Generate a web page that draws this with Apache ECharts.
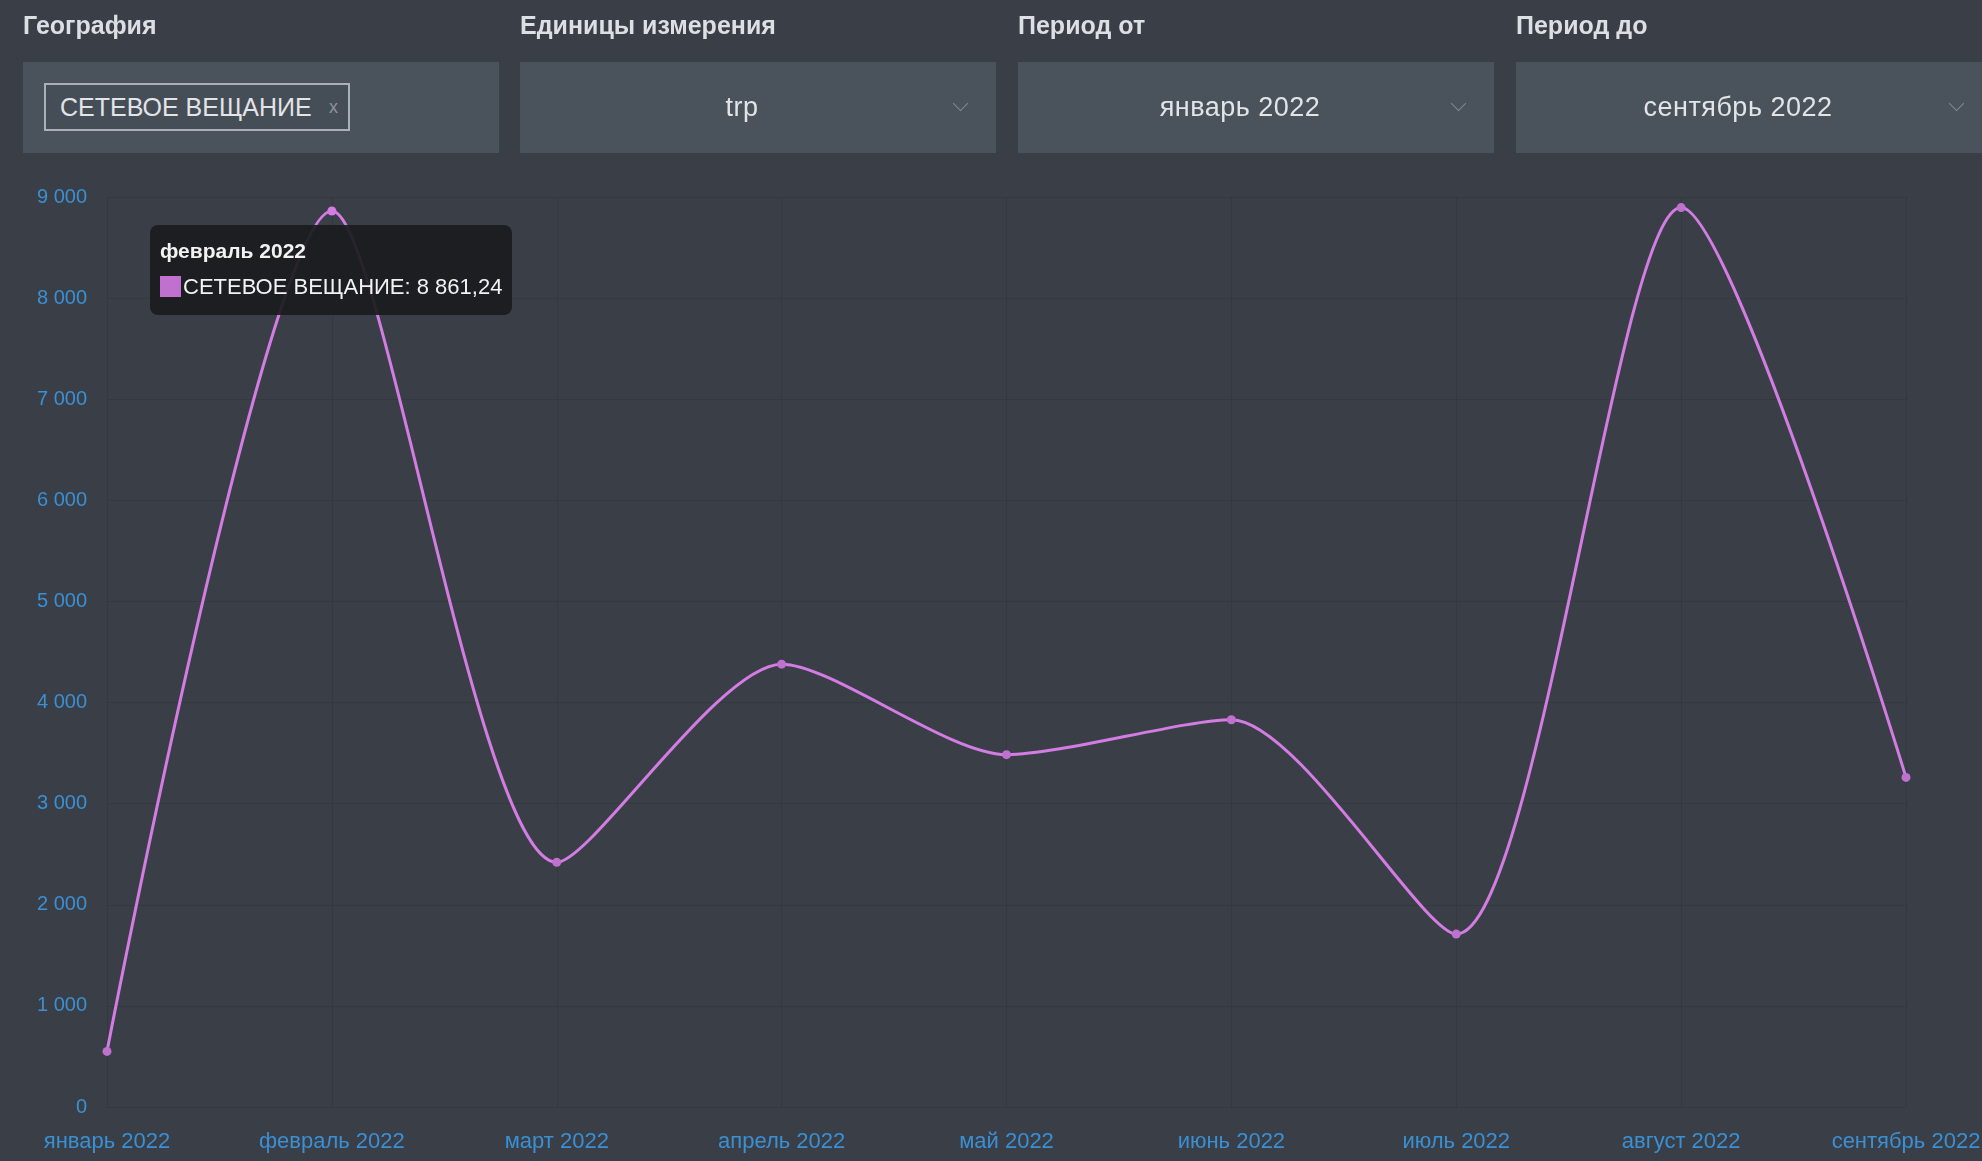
<!DOCTYPE html>
<html>
<head>
<meta charset="utf-8">
<script src="https://cdn.jsdelivr.net/npm/echarts@6/dist/echarts.min.js"></script>
<style>
  html, body { margin: 0; padding: 0; width: 1982px; height: 1161px; overflow: hidden; background: #3a3f47; font-family: "Liberation Sans", Arial, sans-serif; }
  #main { position: absolute; left: 0; top: 0; width: 1982px; height: 1161px; }
  .filter { position: absolute; top: 0; width: 476px; z-index: 2; }
  .filter .caption { position: absolute; top: 11px; left: 0; font-size: 25px; font-weight: 600; color: #dcdfe3; white-space: nowrap; }
  .filter .box { position: absolute; top: 62px; left: 0; width: 476px; height: 91px; background: #4a525b; }
  .filter .value { position: absolute; top: 0; left: 0; width: 444px; line-height: 91px; text-align: center; font-size: 27px; color: #e2e4e7; letter-spacing: 0.5px; }
  .filter .chev { position: absolute; right: 30px; top: 36px; width: 10px; height: 10px; border-right: 1.5px solid #7f8892; border-bottom: 1.5px solid #7f8892; transform: rotate(45deg); }
  .tag { position: absolute; left: 21px; top: 21px; width: 306px; height: 48px; border: 2px solid #a9b0b8; background: #454d56; box-sizing: border-box; }
  .tag span { position: absolute; left: 14px; top: 0; line-height: 44px; font-size: 25px; color: #e2e4e7; white-space: nowrap; }
  .tag i { position: absolute; right: 10px; top: 0; line-height: 44px; font-style: normal; font-size: 18px; color: #8d949c; }
</style>
</head>
<body>
<div id="main"></div>

<div class="filter" style="left:23px">
  <div class="caption">География</div>
  <div class="box"><div class="tag"><span>СЕТЕВОЕ ВЕЩАНИЕ</span><i>x</i></div></div>
</div>
<div class="filter" style="left:520px">
  <div class="caption">Единицы измерения</div>
  <div class="box"><div class="value">trp</div><div class="chev"></div></div>
</div>
<div class="filter" style="left:1018px">
  <div class="caption">Период от</div>
  <div class="box"><div class="value">январь 2022</div><div class="chev"></div></div>
</div>
<div class="filter" style="left:1516px">
  <div class="caption">Период до</div>
  <div class="box"><div class="value">сентябрь 2022</div><div class="chev"></div></div>
</div>

<script>
// данные графика
var months = ['январь 2022', 'февраль 2022', 'март 2022', 'апрель 2022', 'май 2022',
              'июнь 2022', 'июль 2022', 'август 2022', 'сентябрь 2022'];
var seriesName = 'СЕТЕВОЕ ВЕЩАНИЕ';
var trpValues = [550, 8861.24, 2420, 4380, 3485, 3830, 1710, 8895, 3260];
var yTicks = [0, 1000, 2000, 3000, 4000, 5000, 6000, 7000, 8000, 9000];

var lineColor = '#c071cf';

// число в формате "8 861,24"
function fmt (v, digits) {
    var parts = v.toFixed(digits).split('.');
    var intPart = parts[0].replace(/\B(?=(\d{3})+(?!\d))/g, ' ');
    return parts.length > 1 ? intPart + ',' + parts[1] : intPart;
}

var chart = echarts.init(document.getElementById('main'));

var option = {
    backgroundColor: 'transparent',
    textStyle: { fontFamily: '"Liberation Sans", Arial, sans-serif' },
    grid: {
        left: 107,
        right: 76,
        top: 197,
        bottom: 54,
        outerBoundsMode: 'none'
    },
    tooltip: {
        trigger: 'axis',
        triggerOn: 'none',
        alwaysShowContent: true,
        position: [150, 225],
        axisPointer: { type: 'none' },
        backgroundColor: 'rgba(27, 28, 31, 0.93)',
        borderWidth: 0,
        borderRadius: 8,
        padding: [11, 10, 11, 10],
        extraCssText: 'box-shadow:none;',
        formatter: function (params) {
            var p = params[0];
            return '<div style="font-size:21px;font-weight:bold;color:#f2f2f2;line-height:30px;">' + p.name + '</div>' +
                '<div style="font-size:22px;color:#f2f2f2;line-height:34px;margin-top:4px;white-space:nowrap;">' +
                '<span style="display:inline-block;width:21px;height:21px;background:' + lineColor +
                ';vertical-align:-3px;margin-right:2px;"></span>' +
                p.seriesName + ': ' + fmt(p.value, 2) + '</div>';
        }
    },
    xAxis: {
        type: 'category',
        data: months,
        boundaryGap: false,
        axisLine: { show: false },
        axisTick: { show: false },
        axisLabel: {
            color: '#3b8fd3',
            fontSize: 22,
            margin: 24,
            interval: 0
        },
        splitLine: { show: true, lineStyle: { color: '#343940', width: 1 } }
    },
    yAxis: {
        type: 'value',
        min: yTicks[0],
        max: yTicks[yTicks.length - 1],
        interval: yTicks[1] - yTicks[0],
        axisLine: { show: false },
        axisTick: { show: false },
        axisLabel: {
            color: '#3b8fd3',
            fontSize: 20,
            margin: 20,
            formatter: function (v) { return fmt(v, 0); }
        },
        splitLine: { show: true, lineStyle: { color: '#343940', width: 1 } }
    },
    series: [
        {
            name: seriesName,
            type: 'line',
            data: trpValues,
            smooth: 0.25,
            symbol: 'circle',
            symbolSize: 9,
            lineStyle: { color: lineColor, width: 3 },
            itemStyle: { color: lineColor },
            emphasis: { scale: false }
        }
    ]
};

chart.setOption(option);
chart.dispatchAction({ type: 'showTip', seriesIndex: 0, dataIndex: 1 });
</script>
</body>
</html>
